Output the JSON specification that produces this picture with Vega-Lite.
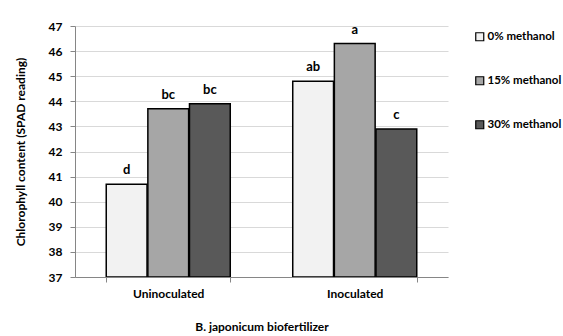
{
  "$schema": "https://vega.github.io/schema/vega-lite/v6.json",
  "width": 373,
  "height": 251,
  "autosize": {"type": "none"},
  "padding": {"left": 75, "top": 26, "right": 115, "bottom": 59},
  "background": "white",
  "config": {
    "font": "Lato",
    "view": {"stroke": null},
    "axis": {"labelFont": "Lato", "titleFont": "Lato", "labelColor": "black", "titleColor": "black"}
  },
  "data": {
    "values": [
      {"inoculation": "Uninoculated", "treatment": "0% methanol", "value": 40.7, "letter": "d"},
      {"inoculation": "Uninoculated", "treatment": "15% methanol", "value": 43.7, "letter": "bc"},
      {"inoculation": "Uninoculated", "treatment": "30% methanol", "value": 43.9, "letter": "bc"},
      {"inoculation": "Inoculated", "treatment": "0% methanol", "value": 44.8, "letter": "ab"},
      {"inoculation": "Inoculated", "treatment": "15% methanol", "value": 46.3, "letter": "a"},
      {"inoculation": "Inoculated", "treatment": "30% methanol", "value": 42.9, "letter": "c"}
    ]
  },
  "encoding": {
    "x": {
      "field": "inoculation",
      "type": "nominal",
      "sort": ["Uninoculated", "Inoculated"],
      "scale": {"paddingInner": 0.335, "paddingOuter": 0.1675},
      "axis": {
        "title": "B. japonicum biofertilizer",
        "titleFontSize": 12,
        "titleFontWeight": "bold",
        "titlePadding": 22,
        "labelAngle": 0,
        "labelFontSize": 12,
        "labelFontWeight": "bold",
        "labelPadding": 6,
        "tickBand": "extent",
        "tickSize": 5,
        "tickColor": "#868686",
        "domainColor": "#868686",
        "grid": false,
        "zindex": 1
      }
    },
    "xOffset": {"field": "treatment", "type": "nominal", "sort": ["0% methanol", "15% methanol", "30% methanol"], "scale": {"paddingInner": 0.02}},
    "y": {
      "field": "value",
      "type": "quantitative",
      "scale": {"domain": [37, 47], "zero": false, "nice": false},
      "axis": {
        "title": "Chlorophyll content (SPAD reading)",
        "titleFontSize": 12,
        "titleFontWeight": "bold",
        "titlePadding": 21,
        "values": [37, 38, 39, 40, 41, 42, 43, 44, 45, 46, 47],
        "labelOverlap": false,
        "labelFontSize": 12,
        "labelFontWeight": "bold",
        "labelPadding": 8,
        "tickSize": 5,
        "tickColor": "#868686",
        "domainColor": "#868686",
        "gridColor": "#d9d9d9"
      }
    }
  },
  "layer": [
    {
      "mark": {"type": "bar", "stroke": "black", "strokeWidth": 1.5},
      "encoding": {
        "y2": {"datum": 37},
        "color": {
          "field": "treatment",
          "type": "nominal",
          "sort": ["0% methanol", "15% methanol", "30% methanol"],
          "scale": {"range": ["#f2f2f2", "#a6a6a6", "#595959"]},
          "legend": {
            "title": null,
            "orient": "none",
            "legendX": 399,
            "legendY": 5,
            "symbolType": "square",
            "symbolSize": 64,
            "symbolStrokeColor": "black",
            "symbolStrokeWidth": 1.2,
            "labelFontSize": 11.5,
            "labelFontWeight": "bold",
            "labelColor": "black",
            "labelFont": "Lato",
            "labelOffset": 2,
            "rowPadding": 30
          }
        }
      }
    },
    {
      "mark": {"type": "text", "baseline": "bottom", "dy": -7, "fontSize": 13, "fontWeight": "bold", "color": "black"},
      "encoding": {"text": {"field": "letter"}}
    }
  ]
}
